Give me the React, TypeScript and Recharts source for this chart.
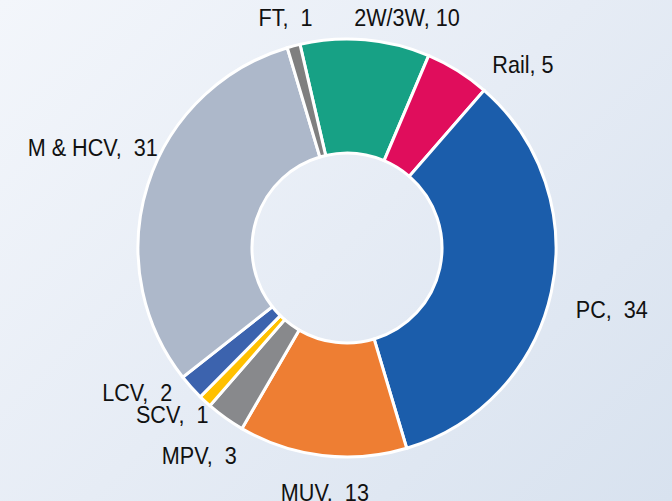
import React from 'react';
import { PieChart, Pie, Cell } from 'recharts';

// Share of transport energy demand by segment (%)
const segments = ['2W/3W', 'Rail', 'PC', 'MUV', 'MPV', 'SCV', 'LCV', 'M & HCV', 'FT'];
const shares = [10, 5, 34, 13, 3, 1, 2, 31, 1];
const labelGaps = [', ', ', ', ',  ', ',  ', ',  ', ',  ', ',  ', ',  ', ',  '];

const colors = ['#17a185', '#e00d5c', '#1b5dab', '#ee7e33', '#88898c', '#ffc000', '#3c63ae', '#adb8ca', '#7f7f7f'];

// label nudges (px) from the default radial position, to follow the original layout
const labelNudge: [number, number][] = [
  [40, -2], [24, 11], [5, 13], [5, 17], [23, 21], [17, -1], [-4, -8], [29, -31], [-3, -9],
];

const data = segments.map((name, i) => ({ name, value: shares[i] }));

const RADIAN = Math.PI / 180;

const renderLabel = (props: any) => {
  const { cx, cy, midAngle, outerRadius, index } = props;
  const r = outerRadius + 20;
  const px = cx + r * Math.cos(-midAngle * RADIAN);
  const py = cy + r * Math.sin(-midAngle * RADIAN);
  const s = Math.cos(-midAngle * RADIAN);
  const anchor = Math.abs(s) < 0.35 ? 'middle' : s > 0 ? 'start' : 'end';
  const [dx, dy] = labelNudge[index];
  return (
    <text
      transform={`translate(${px + dx},${py + dy}) scale(0.9,1)`}
      x={0}
      y={0}
      textAnchor={anchor}
      dominantBaseline="central"
      fill="#111"
      fontSize={24}
      fontFamily="'Liberation Sans', Arial, sans-serif"
      style={{ whiteSpace: 'pre' }}
    >
      {`${segments[index]}${labelGaps[index]}${shares[index]}`}
    </text>
  );
};

export default function App() {
  return (
    <div
      style={{
        position: 'fixed',
        left: 0,
        top: 0,
        width: 672,
        height: 501,
        background: 'linear-gradient(135deg, #f3f6fb 0%, #e6ecf5 50%, #d8e2ef 100%)',
      }}
    >
      <PieChart width={672} height={501} margin={{ top: 0, right: 0, bottom: 0, left: 0 }}>
        <Pie
          data={data}
          dataKey="value"
          nameKey="name"
          cx={347}
          cy={248}
          innerRadius={95}
          outerRadius={209}
          startAngle={103}
          endAngle={-257}
          stroke="#ffffff"
          strokeWidth={3}
          label={renderLabel}
          labelLine={false}
          isAnimationActive={false}
        >
          {data.map((d, i) => (
            <Cell key={d.name} fill={colors[i]} />
          ))}
        </Pie>
      </PieChart>
    </div>
  );
}
